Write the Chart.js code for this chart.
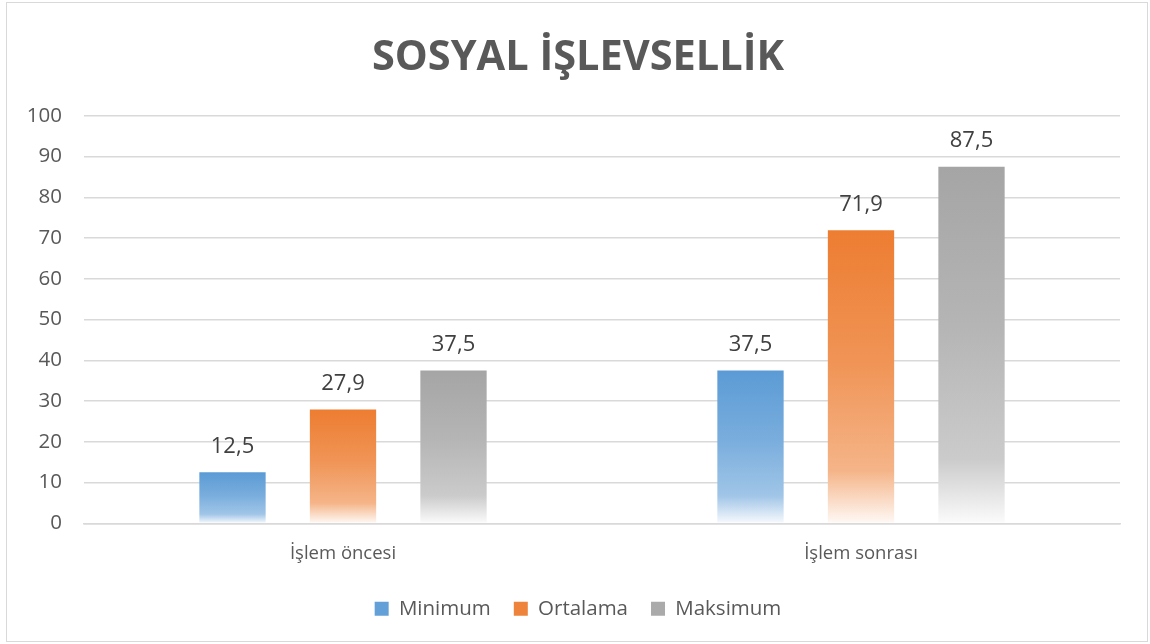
<!DOCTYPE html>
<html lang="tr">
<head>
<meta charset="utf-8">
<title>Sosyal İşlevsellik</title>
<script src="https://cdn.jsdelivr.net/npm/chart.js@4/dist/chart.umd.min.js"></script>
<style>
    html, body { margin: 0; padding: 0; background: #ffffff; }
    #wrap { position: relative; width: 1150px; height: 644px; }
</style>
</head>
<body>
<div id="wrap"><canvas id="chart"></canvas></div>
<script>
// --- DATA ---
const categories = ['İşlem öncesi', 'İşlem sonrası'];
const minimumValues = [12.5, 37.5];
const ortalamaValues = [27.9, 71.9];
const maksimumValues = [37.5, 87.5];
const seriesNames = ['Minimum', 'Ortalama', 'Maksimum'];
const yTicks = [0, 10, 20, 30, 40, 50, 60, 70, 80, 90, 100];

// --- STYLE ---
const FONT = "'Open Sans', 'Liberation Sans', sans-serif";
const TEXT_COLOR = '#595959';
const GRID_COLOR = '#d9d9d9';
const SERIES_COLORS = [[91, 155, 213], [237, 125, 49], [165, 165, 165]];

function tint([r, g, b], t) {
    const m = c => Math.round(c + (255 - c) * t);
    return `rgb(${m(r)}, ${m(g)}, ${m(b)})`;
}

// fill each bar with its own top-to-bottom fade, like the original
function barGradient(rgb) {
    return (context) => {
        const chart = context.chart;
        if (!chart.chartArea || context.raw === undefined) return tint(rgb, 0);
        const yScale = chart.scales.y;
        const top = yScale.getPixelForValue(context.raw);
        const base = yScale.getPixelForValue(0);
        const g = chart.ctx.createLinearGradient(0, top, 0, base);
        g.addColorStop(0, tint(rgb, 0));
        g.addColorStop(0.45, tint(rgb, 0.18));
        g.addColorStop(0.82, tint(rgb, 0.42));
        g.addColorStop(1, tint(rgb, 0.95));
        return g;
    };
}

// value labels above the bars, with decimal comma
const valueLabels = {
    id: 'valueLabels',
    afterDatasetsDraw(chart) {
        const ctx = chart.ctx;
        ctx.save();
        ctx.font = `22px ${FONT}`;
        ctx.fillStyle = '#404040';
        ctx.textAlign = 'center';
        ctx.textBaseline = 'middle';
        chart.data.datasets.forEach((ds, i) => {
            chart.getDatasetMeta(i).data.forEach((bar, j) => {
                const label = ds.data[j].toFixed(1).replace('.', ',');
                ctx.fillText(label, bar.x, bar.y - 26);
            });
        });
        ctx.restore();
    }
};

// thin grey frame round the whole chart
const chartFrame = {
    id: 'chartFrame',
    beforeDraw(chart) {
        const ctx = chart.ctx;
        ctx.save();
        ctx.strokeStyle = GRID_COLOR;
        ctx.lineWidth = 1;
        ctx.strokeRect(6.5, 2.5, chart.width - 9, chart.height - 5);
        ctx.restore();
    }
};

const datasets = [minimumValues, ortalamaValues, maksimumValues].map((values, i) => ({
    label: seriesNames[i],
    data: values,
    backgroundColor: barGradient(SERIES_COLORS[i]),
    borderWidth: 0,
    barPercentage: 0.6,
    categoryPercentage: 0.64
}));

new Chart(document.getElementById('chart'), {
    type: 'bar',
    data: { labels: categories, datasets: datasets },
    options: {
        responsive: true,
        maintainAspectRatio: false,
        animation: false,
        layout: { padding: { left: 18, right: 12, top: 0, bottom: 15 } },
        plugins: {
            title: {
                display: true,
                text: 'SOSYAL İŞLEVSELLİK',
                color: TEXT_COLOR,
                font: { family: FONT, size: 41.5, weight: 'bold' },
                padding: { top: 33, bottom: 33 }
            },
            legend: {
                position: 'bottom',
                labels: {
                    color: TEXT_COLOR,
                    font: { family: FONT, size: 20.5 },
                    boxWidth: 14,
                    boxHeight: 14,
                    padding: 23,
                    generateLabels(chart) {
                        return chart.data.datasets.map((ds, i) => ({
                            text: ds.label,
                            fillStyle: tint(SERIES_COLORS[i], 0.05),
                            strokeStyle: 'rgba(0,0,0,0)',
                            lineWidth: 0,
                            fontColor: TEXT_COLOR,
                            datasetIndex: i
                        }));
                    }
                }
            },
            tooltip: { enabled: false }
        },
        scales: {
            x: {
                grid: { display: false },
                border: { color: GRID_COLOR, width: 1.5 },
                ticks: { color: TEXT_COLOR, font: { family: FONT, size: 18.5 }, padding: 11 }
            },
            y: {
                min: 0,
                max: 100,
                afterBuildTicks(scale) { scale.ticks = yTicks.map(v => ({ value: v })); },
                afterFit(scale) { scale.width = 66; },
                grid: { color: GRID_COLOR, lineWidth: 1.5, drawTicks: false },
                border: { display: false },
                ticks: { color: TEXT_COLOR, font: { family: FONT, size: 20.5 }, padding: 22 }
            },
            // empty right-hand spacer so the plot ends where the original does
            spacer: {
                position: 'right',
                display: true,
                afterFit(scale) { scale.width = 18; },
                grid: { display: false },
                border: { display: false },
                ticks: { display: false }
            }
        }
    },
    plugins: [valueLabels, chartFrame]
});
</script>
</body>
</html>
